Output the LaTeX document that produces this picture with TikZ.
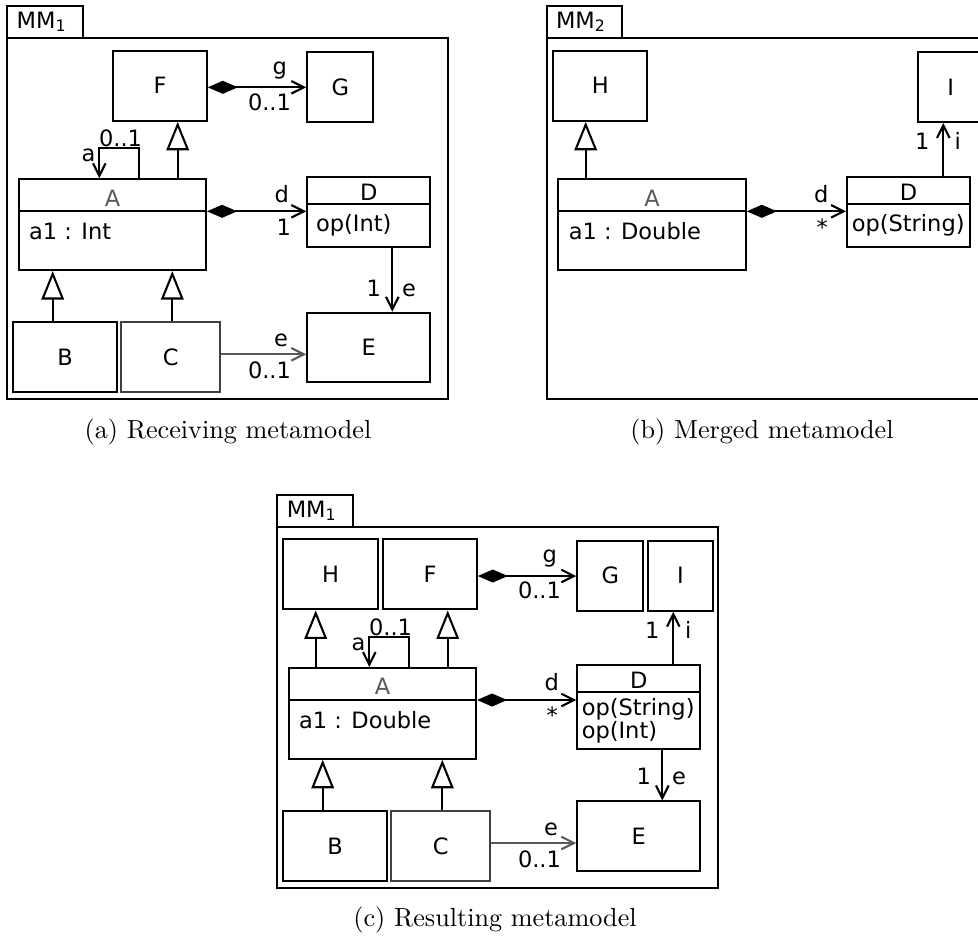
\documentclass[tikz,border=0pt]{standalone}
\usepackage{fontspec}
\newfontfamily\umlfont{DejaVu Sans}
\usetikzlibrary{arrows.meta,positioning,fit}

\newcommand{\umlsize}{\umlfont\fontsize{8.6}{10.3}\selectfont}
\newcommand{\capsize}{\fontsize{10}{12}\selectfont}

\begin{document}
\begin{tikzpicture}[
    x=0.3821pt, y=-0.3821pt,
    line width=0.8pt,
    cls/.style={rectangle, draw, inner sep=0pt, label={[font=\umlsize, inner sep=0pt]center:#1}},
    cls/.default={},
    pkgbox/.style={rectangle, draw, inner sep=0pt},
    txt/.style={inner sep=0pt, font=\umlsize},
    gen/.style={-{Triangle[open, fill=white, length=10.9pt, width=8.6pt]}},
    comp/.style={{Diamond[length=11.5pt, width=5pt]}-{Straight Barb[length=4.8pt, width=4.8pt]}},
    assoc/.style={-{Straight Barb[length=4.8pt, width=4.8pt]}}
]
\useasboundingbox (0,0) rectangle (978,938);
\clip (0,0) rectangle (978,938);

% (a) receiving metamodel
\node[pkgbox, fit={(7.3,6) (82.7,38.3)}] (tabA) {};
\node[txt, anchor=base west] (mmA) at (15.7,28.3) {MM\textsubscript{1}};
\node[pkgbox, fit={(7.3,38.3) (447.7,399)}] (pkgA) {};
\node[cls=F, fit={(113.3,50.7) (206.7,120.7)}] (aF) {};
\node[cls=G, fit={(307.3,52) (373.3,122)}] (aG) {};
\node[cls, fit={(19,179.3) (206,270)}] (aA) {};
\draw (aA.west |- 0,211.3) -- (aA.east |- 0,211.3);
\node[txt, anchor=base, text=black!65] (aAname) at (112.5,206) {A};
\node[txt, anchor=base west] (aAattr) at (28,239.3) {a1 : Int};
\node[cls, fit={(307.3,176.7) (430,246.7)}] (aD) {};
\draw (aD.west |- 0,204) -- (aD.east |- 0,204);
\node[txt, anchor=base] (aDname) at (368.7,200) {D};
\node[txt, anchor=base west] (aDop) at (315,231.5) {op(Int)};
\node[cls=E, fit={(307.3,312.7) (430,382.3)}] (aE) {};
\node[cls=B, fit={(13.3,322.3) (116.7,392.3)}] (aB) {};
\node[cls=C, draw=black!75, fit={(121,322.3) (220.3,392.3)}] (aC) {};
\draw[comp] (aF.east |- 0,87.3) -- (aG.west |- 0,87.3);
\draw[comp] (aA.east |- 0,211.3) -- (aD.west |- 0,211.3);
\draw[gen] (aA.north -| 177.7,0) -- (aF.south -| 177.7,0);
\draw[gen] (aB.north -| 52.7,0) -- (aA.south -| 52.7,0);
\draw[gen] (aC.north -| 172.3,0) -- (aA.south -| 172.3,0);
\draw[assoc] (aA.north -| 139.3,0) -- ++(0,-30.3) -| (aA.north -| 99.3,0);
\draw[assoc] (aD.south -| 392.3,0) -- (aE.north -| 392.3,0);
\draw[assoc, black!65] (aC.east |- 0,354.3) -- (aE.west |- 0,354.3);
\node[txt, anchor=base east] (aGlab) at (288,74) {g};
\node[txt, anchor=base east] (aGmul) at (292,110) {0..1};
\node[txt, anchor=base east] (aDlab) at (290,202) {d};
\node[txt, anchor=base east] (aDmul) at (292,235) {1};
\node[txt, anchor=base east] (aAlab) at (96.5,161.7) {a};
\node[txt, anchor=base west] (aAmul) at (98,146.7) {0..1};
\node[txt, anchor=base east] (aEmul) at (382,296) {1};
\node[txt, anchor=base west] (aElab) at (401,296) {e};
\node[txt, anchor=base east] (aClab) at (289,346.7) {e};
\node[txt, anchor=base east] (aCmul) at (292,378.3) {0..1};
\node[anchor=base, inner sep=0pt, font=\capsize] (capA) at (228,438.5) {(a) Receiving metamodel};

% (b) merged metamodel
\node[pkgbox, fit={(546.7,6) (622.3,38.3)}] (tabB) {};
\node[txt, anchor=base west] (mmB) at (555,28.3) {MM\textsubscript{2}};
\node[pkgbox, fit={(546.7,38.3) (987.7,399)}] (pkgB) {};
\node[cls=H, fit={(553.3,50.7) (647.3,120.7)}] (bH) {};
\node[cls=I, fit={(917.7,52) (983.7,122)}] (bI) {};
\node[cls, fit={(558.3,179.3) (745.7,270)}] (bA) {};
\draw (bA.west |- 0,211.3) -- (bA.east |- 0,211.3);
\node[txt, anchor=base, text=black!65] (bAname) at (652,206) {A};
\node[txt, anchor=base west] (bAattr) at (567.7,239.3) {a1 : Double};
\node[cls, fit={(847,176.7) (970,246.7)}] (bD) {};
\draw (bD.west |- 0,204) -- (bD.east |- 0,204);
\node[txt, anchor=base] (bDname) at (908.5,200) {D};
\node[txt, anchor=base west] (bDop) at (850.7,231.5) {op(String)};
\draw[gen] (bA.north -| 585.7,0) -- (bH.south -| 585.7,0);
\draw[comp] (bA.east |- 0,211.3) -- (bD.west |- 0,211.3);
\draw[assoc] (bD.north -| 943.3,0) -- (bI.south -| 943.3,0);
\node[txt, anchor=base east] (bDlab) at (829.5,202) {d};
\node[txt, anchor=base east] (bDmul) at (829,235) {*};
\node[txt, anchor=base east] (bImul) at (930.5,149) {1};
\node[txt, anchor=base west] (bIlab) at (953.5,149) {i};
\node[anchor=base, inner sep=0pt, font=\capsize] (capB) at (762,438.5) {(b) Merged metamodel};

% (c) resulting metamodel
\node[pkgbox, fit={(277.3,494.7) (352.7,527)}] (tabC) {};
\node[txt, anchor=base west] (mmC) at (285.7,517) {MM\textsubscript{1}};
\node[pkgbox, fit={(277.3,527) (717.7,887.7)}] (pkgC) {};
\node[cls=H, fit={(283.3,539.3) (377.7,609.3)}] (cH) {};
\node[cls=F, fit={(383.3,539.4) (476.7,609.4)}] (cF) {};
\node[cls=G, fit={(577.3,540.7) (643.3,610.7)}] (cG) {};
\node[cls=I, fit={(647.7,540.7) (713.3,610.7)}] (cI) {};
\node[cls, fit={(289,668) (476,758.7)}] (cA) {};
\draw (cA.west |- 0,700) -- (cA.east |- 0,700);
\node[txt, anchor=base, text=black!65] (cAname) at (382.5,694.7) {A};
\node[txt, anchor=base west] (cAattr) at (298,728) {a1 : Double};
\node[cls, fit={(577.3,665.3) (700,748.7)}] (cD) {};
\draw (cD.west |- 0,692) -- (cD.east |- 0,692);
\node[txt, anchor=base] (cDname) at (638.7,688.3) {D};
\node[txt, anchor=base west] (cDop1) at (580.7,715) {op(String)};
\node[txt, anchor=base west] (cDop2) at (580.7,738.5) {op(Int)};
\node[cls=E, fit={(577.3,801.4) (700,871)}] (cE) {};
\node[cls=B, fit={(283.3,811) (386.7,881)}] (cB) {};
\node[cls=C, draw=black!75, fit={(391,811) (490.3,881)}] (cC) {};
\draw[comp] (cF.east |- 0,576) -- (cG.west |- 0,576);
\draw[comp] (cA.east |- 0,700) -- (cD.west |- 0,700);
\draw[gen] (cA.north -| 315.7,0) -- (cH.south -| 315.7,0);
\draw[gen] (cA.north -| 447.7,0) -- (cF.south -| 447.7,0);
\draw[gen] (cB.north -| 322.7,0) -- (cA.south -| 322.7,0);
\draw[gen] (cC.north -| 442.3,0) -- (cA.south -| 442.3,0);
\draw[assoc] (cA.north -| 409.3,0) -- ++(0,-30.3) -| (cA.north -| 369.3,0);
\draw[assoc] (cD.south -| 662.3,0) -- (cE.north -| 662.3,0);
\draw[assoc] (cD.north -| 673.3,0) -- (cI.south -| 673.3,0);
\draw[assoc, black!65] (cC.east |- 0,843) -- (cE.west |- 0,843);
\node[txt, anchor=base east] (cGlab) at (558,562.7) {g};
\node[txt, anchor=base east] (cGmul) at (562,598.7) {0..1};
\node[txt, anchor=base east] (cDlab) at (560,690.7) {d};
\node[txt, anchor=base east] (cDmul) at (559,723.7) {*};
\node[txt, anchor=base east] (cAlab) at (366.5,650.4) {a};
\node[txt, anchor=base west] (cAmul) at (368,635.4) {0..1};
\node[txt, anchor=base east] (cEmul) at (652,784.7) {1};
\node[txt, anchor=base west] (cElab) at (671,784.7) {e};
\node[txt, anchor=base east] (cImul) at (660.5,638.3) {1};
\node[txt, anchor=base west] (cIlab) at (684,638.3) {i};
\node[txt, anchor=base east] (cClab) at (559,835.4) {e};
\node[txt, anchor=base east] (cCmul) at (562,867) {0..1};
\node[anchor=base, inner sep=0pt, font=\capsize] (capC) at (495,926.5) {(c) Resulting metamodel};
\end{tikzpicture}
\end{document}
